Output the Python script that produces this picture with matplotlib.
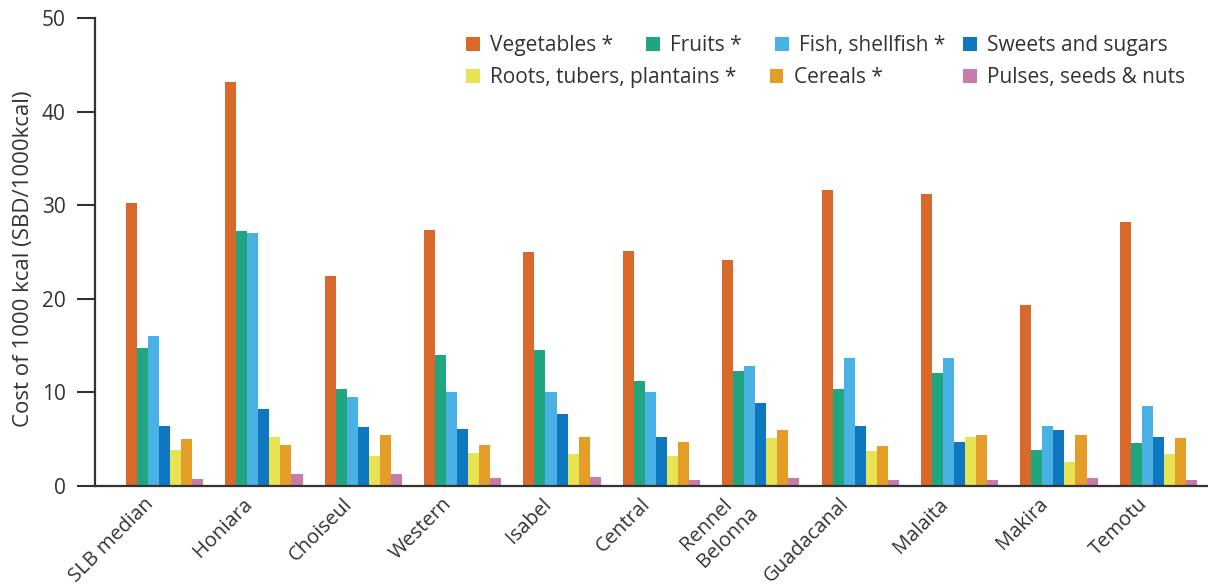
import numpy as np
import matplotlib
matplotlib.use('Agg')
import matplotlib.pyplot as plt
from matplotlib.transforms import ScaledTranslation

plt.rcParams['font.family'] = ['Open Sans', 'DejaVu Sans']

regions = ['SLB median', 'Honiara', 'Choiseul', 'Western', 'Isabel', 'Central',
           'Rennel\nBelonna', 'Guadacanal', 'Malaita', 'Makira', 'Temotu']

groups = ['Vegetables *', 'Fruits *', 'Fish, shellfish *', 'Sweets and sugars',
          'Roots, tubers, plantains *', 'Cereals *', 'Pulses, seeds & nuts']

vegetables = [30.2, 43.2, 22.4, 27.4, 25.0, 25.1, 24.1, 31.6, 31.2, 19.3, 28.2]
fruits     = [14.7, 27.2, 10.4, 14.0, 14.5, 11.2, 12.3, 10.4, 12.1, 3.8, 4.6]
fish       = [16.0, 27.0, 9.5, 10.0, 10.0, 10.0, 12.8, 13.7, 13.7, 6.4, 8.5]
sweets     = [6.4, 8.2, 6.3, 6.1, 7.7, 5.2, 8.9, 6.4, 4.7, 6.0, 5.2]
roots      = [3.85, 5.2, 3.2, 3.5, 3.4, 3.2, 5.1, 3.7, 5.2, 2.6, 3.4]
cereals    = [5.0, 4.4, 5.4, 4.4, 5.2, 4.7, 6.0, 4.3, 5.5, 5.4, 5.1]
pulses     = [0.75, 1.3, 1.3, 0.85, 0.95, 0.65, 0.85, 0.65, 0.65, 0.85, 0.65]

series = [vegetables, fruits, fish, sweets, roots, cereals, pulses]
colors = ['#D9692A', '#1FA57F', '#4AB1E4', '#0E77BF', '#E8E352', '#E49E27', '#C67BAA']
txt = '#333333'

fig = plt.figure(figsize=(12.08, 5.84), dpi=100)
ax = fig.add_axes([0.0786, 0.1678, 0.9214, 0.8013])

x = np.arange(len(regions))
w = 0.111
handles = {}
for k, (vals, col, name) in enumerate(zip(series, colors, groups)):
    off = (k - 3) * w
    handles[name] = ax.bar(x + off, vals, width=w, color=col, label=name)

ax.set_ylim(0, 50)
ax.set_xlim(-0.70, 10.50)
ax.set_yticks([0, 10, 20, 30, 40, 50])
ax.tick_params(axis='y', length=13, width=1.5, color=txt, labelsize=15,
               labelcolor=txt, pad=8)
ax.set_xticks(x)
ax.set_xticklabels(regions, rotation=45, ha='right', va='center',
                   rotation_mode='anchor', fontsize=14.5, color=txt,
                   linespacing=1.25, multialignment='left')
ax.tick_params(axis='x', length=0, pad=11)
shift = ScaledTranslation(-14 / 100, 0, fig.dpi_scale_trans)
for lab in ax.get_xticklabels():
    lab.set_transform(lab.get_transform() + shift)
for s in ['top', 'right']:
    ax.spines[s].set_visible(False)
for s in ['left', 'bottom']:
    ax.spines[s].set_linewidth(1.6)
    ax.spines[s].set_color(txt)
ax.set_ylabel('Cost of 1000 kcal (SBD/1000kcal)', fontsize=16, color=txt)
ax.yaxis.set_label_coords(-0.055, 0.485)

# legend laid out as in the original: two left rows plus an aligned right column
left1 = ['Vegetables *', 'Fruits *', 'Fish, shellfish *']
left2 = ['Roots, tubers, plantains *', 'Cereals *']
right = ['Sweets and sugars', 'Pulses, seeds & nuts']
common = dict(frameon=False, fontsize=15, handlelength=0.65, handleheight=0.65,
              handletextpad=0.5, borderpad=0, borderaxespad=0,
              labelcolor=txt, loc='upper left', columnspacing=1.6,
              labelspacing=0.55)
fig.legend([handles[n] for n in left1], left1, ncol=3,
           bbox_to_anchor=(466 / 1208, 1 - 35 / 584), **common)
fig.legend([handles[n] for n in left2], left2, ncol=2,
           bbox_to_anchor=(466 / 1208, 1 - 67 / 584), **common)
fig.legend([handles[n] for n in right], right, ncol=1,
           bbox_to_anchor=(963 / 1208, 1 - 35 / 584), **common)

fig.savefig('out.png', dpi=100)
